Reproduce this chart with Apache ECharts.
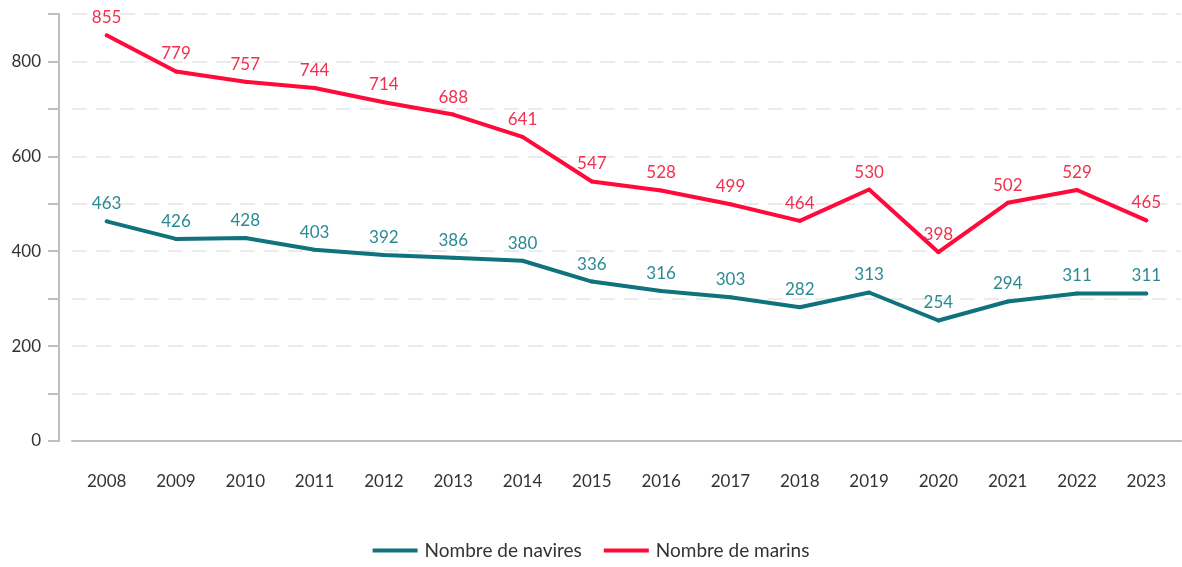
<!DOCTYPE html>
<html>
<head>
<meta charset="utf-8">
<script src="https://cdn.jsdelivr.net/npm/echarts@6/dist/echarts.min.js"></script>
<style>
html,body{margin:0;padding:0;background:#fff;}
#chart{width:1182px;height:567px;}
</style>
</head>
<body>
<div id="chart"></div>
<script>
var years = ['2008','2009','2010','2011','2012','2013','2014','2015','2016','2017','2018','2019','2020','2021','2022','2023'];
var navires = [463,426,428,403,392,386,380,336,316,303,282,313,254,294,311,311];
var marins = [855,779,757,744,714,688,641,547,528,499,464,530,398,502,529,465];

var myChart = echarts.init(document.getElementById('chart'));
var font = 'Lato';

var option = {
    animation: false,
    textStyle: {fontFamily: font},
    grid: {left: 72, right: 1, top: 14, bottom: 126},
    legend: {
        bottom: 2,
        left: 'center',
        itemWidth: 45,
        itemHeight: 4,
        itemGap: 22,
        icon: 'rect',
        textStyle: {fontFamily: font, fontSize: 19, color: '#333', padding: [0, 0, 0, 2]},
        data: ['Nombre de navires', 'Nombre de marins']
    },
    xAxis: {
        type: 'category',
        data: years,
        axisLine: {lineStyle: {color: '#bfbfbf', width: 2}},
        axisTick: {alignWithLabel: true, length: 11, lineStyle: {color: '#bfbfbf', width: 2}},
        axisLabel: {margin: 32, fontSize: 17, color: '#333', fontFamily: font}
    },
    yAxis: {
        type: 'value',
        min: 0,
        max: 900,
        interval: 100,
        offset: 13,
        axisLine: {show: true, lineStyle: {color: '#bfbfbf', width: 2}},
        axisTick: {show: true, length: 11, lineStyle: {color: '#bfbfbf', width: 2}},
        axisLabel: {
            margin: 18,
            fontSize: 17,
            color: '#333',
            fontFamily: font,
            formatter: function (v) { return v % 200 === 0 ? v : ''; }
        },
        splitLine: {lineStyle: {color: '#ebebeb', width: 2, type: [15, 9]}}
    },
    series: [
        {
            name: 'Nombre de navires',
            type: 'line',
            data: navires,
            symbol: 'circle',
            symbolSize: 4,
            showAllSymbol: true,
            itemStyle: {color: '#10727c'},
            lineStyle: {width: 4, color: '#10727c'},
            label: {show: true, position: 'top', distance: 7, fontSize: 17, color: '#2a8a93', fontFamily: font}
        },
        {
            name: 'Nombre de marins',
            type: 'line',
            data: marins,
            symbol: 'circle',
            symbolSize: 4,
            showAllSymbol: true,
            itemStyle: {color: '#ff0a3a'},
            lineStyle: {width: 4, color: '#ff0a3a'},
            label: {show: true, position: 'top', distance: 7, fontSize: 17, color: '#f2304f', fontFamily: font}
        }
    ]
};

myChart.setOption(option);
</script>
</body>
</html>
